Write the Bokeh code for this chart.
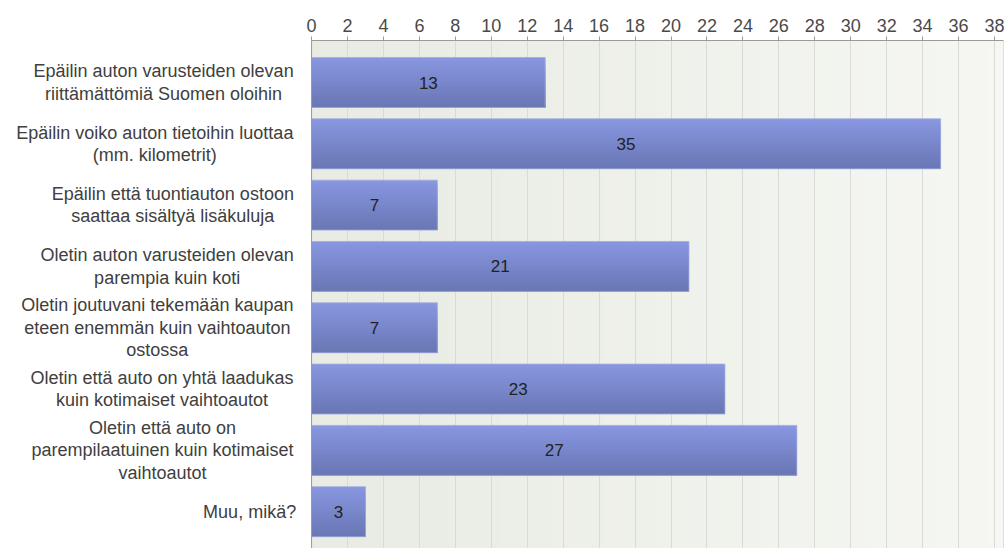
import numpy as np
from bokeh.plotting import figure
from bokeh.models import Range1d, FixedTicker, Span
from bokeh.core.properties import value
from bokeh.embed import file_html
from bokeh.resources import INLINE

categories = [
    "Epäilin auton varusteiden olevan\nriittämättömiä Suomen oloihin",
    "Epäilin voiko auton tietoihin luottaa\n(mm. kilometrit)",
    "Epäilin että tuontiauton ostoon\nsaattaa sisältyä lisäkuluja",
    "Oletin auton varusteiden olevan\nparempia kuin koti",
    "Oletin joutuvani tekemään kaupan\neteen enemmän kuin vaihtoauton\nostossa",
    "Oletin että auto on yhtä laadukas\nkuin kotimaiset vaihtoautot",
    "Oletin että auto on\nparempilaatuinen kuin kotimaiset\nvaihtoautot",
    "Muu, mikä?",
]
counts = [13, 35, 7, 21, 7, 23, 27, 3]
x_ticks = list(range(0, 39, 2))

FONT = "Liberation Sans"
FS = 18
X_MAX = 38.5
PX_PER_UNIT = 17.97  # approx horizontal scale
BAR_H = 0.815

# Arial/Liberation Sans advance widths (per 1000 em) for centering multi-line labels
W = {' ': 278, '(': 333, ')': 333, '.': 278, ',': 278, '?': 556,
     'a': 556, 'b': 556, 'c': 500, 'd': 556, 'e': 556, 'f': 278, 'g': 556, 'h': 556,
     'i': 222, 'j': 222, 'k': 500, 'l': 222, 'm': 833, 'n': 556, 'o': 556, 'p': 556,
     'q': 556, 'r': 333, 's': 500, 't': 278, 'u': 556, 'v': 500, 'w': 722, 'x': 500,
     'y': 500, 'z': 500, 'ä': 556, 'ö': 556, 'E': 667, 'O': 778, 'M': 833, 'S': 667}


def text_w(s):
    return sum(W.get(c, 556) for c in s) / 1000.0 * FS * 1.03


n = len(categories)
ys = np.arange(n)

p = figure(width=1005, height=548, output_backend="svg", toolbar_location=None,
           x_axis_location="above", y_axis_location=None,
           x_range=Range1d(-311 / PX_PER_UNIT, X_MAX), y_range=Range1d(n - 0.4, -0.685),
           min_border_left=0, min_border_right=2, min_border_bottom=0, min_border_top=40,
           background_fill_color="white", border_fill_color="white")
p.outline_line_color = None

# plot-area background (horizontal gradient)
ns = 40
edges = np.linspace(0, X_MAX, ns + 1)
c0 = np.array([0xe8, 0xec, 0xe3])
c1 = np.array([0xf6, 0xf7, 0xf3])
bg_cols = ["#%02x%02x%02x" % tuple(int(v) for v in (c0 + (c1 - c0) * t)) for t in np.linspace(0, 1, ns)]
p.quad(left=edges[:-1], right=edges[1:] + 0.05, bottom=n - 0.4, top=-0.685, fill_color=bg_cols,
       line_color=None, level="image")

# grid
p.xgrid.ticker = FixedTicker(ticks=x_ticks)
p.xgrid.grid_line_color = "#d8dbd6"
p.ygrid.visible = False

# bars with vertical gradient (each strip runs to the bar bottom; later strips overlap)
nst = 14
top_c = np.array([0x88, 0x96, 0xe0])
bot_c = np.array([0x6a, 0x78, 0xb6])
L, R, T, B, C = [], [], [], [], []
for k in range(nst):
    t = k / (nst - 1)
    col = top_c + (bot_c - top_c) * t
    hexcol = "#%02x%02x%02x" % tuple(int(c) for c in col)
    for i, v in enumerate(counts):
        L.append(0)
        R.append(v)
        T.append(ys[i] - BAR_H / 2 + k * BAR_H / nst)
        B.append(ys[i] + BAR_H / 2)
        C.append(hexcol)
p.quad(left=L, right=R, top=T, bottom=B, fill_color=C, line_color=None)
p.quad(left=0, right=counts, top=ys - BAR_H / 2, bottom=ys + BAR_H / 2,
       fill_color=None, line_color="#a3addf", line_width=1, line_alpha=0.8)

# value labels
p.text(x=[v / 2 for v in counts], y=ys, text=[str(v) for v in counts],
       text_align="center", text_baseline="middle", text_font=value(FONT),
       text_font_size="17px", text_color="#222222")

# category labels: block right-aligned, lines centered
right_edge = -14 / PX_PER_UNIT
lx = []
for c in categories:
    bw = max(text_w(line) for line in c.split("\n")) / PX_PER_UNIT
    lx.append(right_edge - bw / 2)
p.text(x=lx, y=ys, text=categories, text_align="center", text_baseline="middle",
       text_font=value(FONT), text_font_size=f"{FS}px", text_color="#404040",
       text_line_height=1.12)

# axis
ax = p.xaxis[0]
ax.ticker = FixedTicker(ticks=x_ticks)
ax.bounds = (0, X_MAX)
ax.axis_line_color = "#9a9a9a"
ax.major_tick_line_color = "#9a9a9a"
ax.major_tick_out = 4
ax.major_tick_in = 0
ax.minor_tick_line_color = None
ax.major_label_text_font = FONT
ax.major_label_text_font_size = f"{FS}px"
ax.major_label_text_color = "#4a4a4a"
ax.major_label_standoff = 5

p.add_layout(Span(location=0, dimension="height", line_color="#9a9a9a", line_width=1))
p.add_layout(Span(location=X_MAX, dimension="height", line_color="#c8c8c8", line_width=1))

open("out.html", "w").write(file_html(p, INLINE))
